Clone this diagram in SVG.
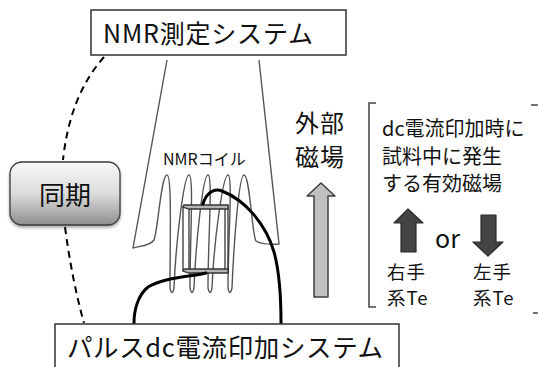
<svg xmlns="http://www.w3.org/2000/svg" width="538" height="367" viewBox="0 0 538 367">
  <style>
    text { font-family: "Noto Sans CJK JP", "Noto Sans", sans-serif; fill: #111; }
    .box { fill: #fff; stroke: #333; stroke-width: 1.5; }
    .coil { fill: none; stroke: #555; stroke-width: 1.4; stroke-linejoin: round; }
    .wire { fill: none; stroke: #000; stroke-width: 3; stroke-linecap: round; }
    .sync { fill: none; stroke: #000; stroke-width: 2; stroke-dasharray: 7 5; }
    .bracket { fill: none; stroke: #444; stroke-width: 1.5; }
    .field { fill: #c0c0c0; stroke: #404040; stroke-width: 1.5; stroke-linejoin: round; }
    .spin { fill: #444; stroke: #2a2a2a; stroke-width: 1.2; stroke-linejoin: round; }
  </style>
  <defs>
    <linearGradient id="syncFill" x1="0" y1="0" x2="0" y2="1">
      <stop offset="0" stop-color="#f7f7f7"/>
      <stop offset="0.5" stop-color="#dcdcdc"/>
      <stop offset="1" stop-color="#8e8e8e"/>
    </linearGradient>
    <filter id="shadow" x="-20%" y="-20%" width="140%" height="150%">
      <feDropShadow dx="0" dy="2" stdDeviation="1.5" flood-color="#000" flood-opacity="0.35"/>
    </filter>
  </defs>

  <!-- NMR coil: funnel outline and helix turns -->
  <g id="nmr-coil">
    <path class="coil" d="M167,60 L133,248 C140,246 150,246 154,240 C158,230 161,175 167,175
      C172,175 170,240 170,288 Q172,297 174,288 C176,240 184,175 189,175
      C194,175 190,240 190,288 Q192,297 194,288 C196,240 203,175 208,175
      C213,175 208,240 208,288 Q210,297 212,288 C214,240 223,175 228,175
      C233,175 228,240 228,288 Q230,297 232,288 C234,240 239,175 244,175
      C250,175 252,236 256,241 Q262,245 279,244 L259,60"/>
    <text x="163" y="165" font-size="16">NMRコイル</text>
  </g>

  <!-- sample slab inside the coil -->
  <g id="sample" fill="none" stroke="#333" stroke-width="1.3">
    <line x1="183" y1="206" x2="183" y2="271"/>
    <line x1="189" y1="209" x2="189" y2="270"/>
    <line x1="225" y1="209" x2="225" y2="270"/>
    <line x1="228" y1="205" x2="228" y2="273"/>
    <polygon points="184,205 228,205 228,209 189,209 183,207" fill="#b5b5b5"/>
    <polygon points="184,269 228,269 228,273 189,273 183,271" fill="#b5b5b5"/>
  </g>

  <!-- connectors -->
  <g id="connectors">
    <path class="wire" d="M203,204 C206,193 214,188 222,191 C245,200 266,224 274,252 C279,270 281,292 281,323"/>
    <path class="wire" d="M206,273 C190,277 165,277 148,287 C138,295 134,310 134,323"/>
    <path class="sync" d="M104,57 Q70,95 63,160"/>
    <path class="sync" d="M65,227 Q72,280 84,323"/>
  </g>

  <g id="nmr-system">
    <rect class="box" x="91" y="10" width="255" height="45"/>
    <text x="103" y="43" font-size="25" textLength="210">NMR測定システム</text>
  </g>

  <g id="sync">
    <rect x="10" y="162" width="110" height="63" rx="12" ry="12" fill="url(#syncFill)" stroke="#3a3a3a" stroke-width="1.3" filter="url(#shadow)"/>
    <text x="65" y="205" font-size="26" text-anchor="middle">同期</text>
  </g>

  <g id="pulse-dc-system">
    <rect class="box" x="55" y="324" width="344" height="50"/>
    <text x="67" y="357" font-size="25.5" textLength="316">パルスdc電流印加システム</text>
  </g>

  <!-- external field -->
  <g id="external-field">
    <text font-size="24" letter-spacing="1"><tspan x="295" y="132">外部</tspan><tspan x="295" y="166">磁場</tspan></text>
    <polygon class="field" points="321,183 335,196 328,196 328,297 314,297 314,196 307,196"/>
  </g>

  <!-- effective field legend -->
  <g id="effective-field">
    <path class="bracket" d="M376,103 L369,103 L369,307 L376,307"/>
    <path class="bracket" d="M531,105 L538,105"/>
    <path class="bracket" d="M533,313 L538,313"/>
    <text font-size="20"><tspan x="382" y="136">dc電流印加時に</tspan><tspan x="382" y="164">試料中に発生</tspan><tspan x="382" y="191">する有効磁場</tspan></text>
    <polygon class="spin" points="408,209 423,223 416,223 416,252 401,252 401,223 394,223"/>
    <text x="435" y="248" font-size="25">or</text>
    <polygon class="spin" points="481,215 496,215 496,242 503,242 488,256 473,242 481,242"/>
    <text font-size="18.5" letter-spacing="1"><tspan x="387" y="279">右手</tspan><tspan x="387" y="305">系Te</tspan></text>
    <text font-size="18.5" letter-spacing="1"><tspan x="473" y="279">左手</tspan><tspan x="473" y="305">系Te</tspan></text>
  </g>
</svg>
